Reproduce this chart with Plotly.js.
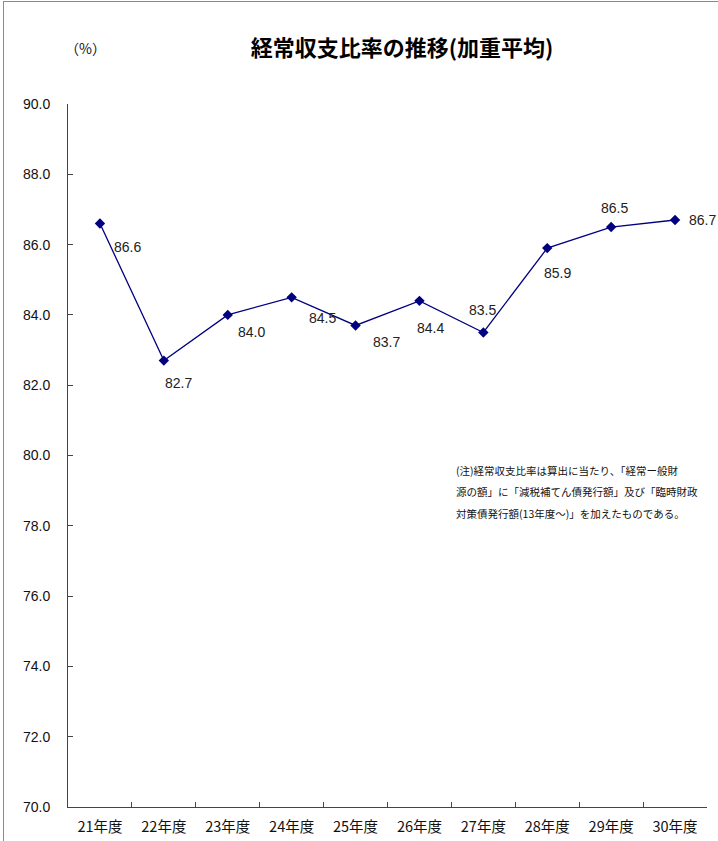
<!DOCTYPE html>
<html>
<head>
<meta charset="utf-8">
<script src="https://cdn.plot.ly/plotly-3.0.1.min.js"></script>
<style>
html,body{margin:0;padding:0;background:#fff;}
#wrap{position:relative;width:718px;height:841px;}
#chart{position:absolute;left:0;top:0;width:718px;height:841px;}
#frame{position:absolute;left:3px;top:1px;width:720px;height:850px;border-left:1px solid #8a8a8a;border-top:1px solid #8a8a8a;pointer-events:none;}
</style>
</head>
<body>
<div id="wrap"><div id="chart"></div><div id="frame"></div></div>
<script>
const categories = ["21年度","22年度","23年度","24年度","25年度","26年度","27年度","28年度","29年度","30年度"];
const ratios = [86.6, 82.7, 84.0, 84.5, 83.7, 84.4, 83.5, 85.9, 86.5, 86.7];
const yTicks = [70,72,74,76,78,80,82,84,86,88,90];
const titleText = "経常収支比率の推移(加重平均)";
const unitText = "（%）";
const noteLines = [
  "(注)経常収支比率は算出に当たり、「経常ー般財",
  "源の額」に「減税補てん債発行額」及び「臨時財政",
  "対策債発行額(13年度～)」を加えたものである。"
];

// label offsets (style only)
const labelDx = [28, 15, 24, 31, 31, 11, -1, 10, 3, 27];
const labelDy = [-23, -22, -17, -21, -17, -27, 22, -25, 19, 0];

const numFont = "'Liberation Sans Narrow','Arial Narrow','Liberation Sans',sans-serif";
const jpFont = "'Noto Sans CJK JP','Noto Sans CJK SC',sans-serif";

const trace = {
  x: categories,
  y: ratios,
  type: "scatter",
  mode: "lines+markers",
  line: {color: "#000080", width: 1.3},
  marker: {symbol: "diamond", size: 8, color: "#000080"},
  cliponaxis: false,
  hoverinfo: "none"
};

const labelAnns = ratios.map((v, i) => ({
  x: categories[i], y: v, xref: "x", yref: "y",
  text: v.toFixed(1), showarrow: false,
  xanchor: "center", yanchor: "middle",
  xshift: labelDx[i], yshift: labelDy[i],
  font: {family: numFont, size: 14, color: "#222"}
}));

const noteAnns = noteLines.map((t, i) => ({
  xref: "paper", yref: "paper", x: (454 - 68) / 639, y: (807 - 470) / 703,
  yshift: -i * 21.5,
  xanchor: "left", yanchor: "middle", align: "left", showarrow: false,
  text: t, font: {family: jpFont, size: 10.5, color: "#111"}
}));

const layout = {
  width: 718, height: 841,
  margin: {l: 68, r: 11, t: 104, b: 34},
  paper_bgcolor: "#fff", plot_bgcolor: "#fff",
  showlegend: false,
  title: {text: "<b>" + titleText + "</b>", font: {family: jpFont, size: 22, color: "#000"}, x: 402 / 718, xanchor: "center", y: 1 - 48 / 841, yanchor: "middle"},
  xaxis: {
    type: "category",
    range: [-0.5, 9.5],
    showline: true, linecolor: "#444", linewidth: 1,
    ticks: "inside", ticklen: 5, tickcolor: "#444", tickson: "boundaries",
    showgrid: false, zeroline: false,
    tickfont: {family: jpFont, size: 14.5, color: "#111"},
    ticklabelstandoff: 7,
    fixedrange: true
  },
  yaxis: {
    range: [70, 90],
    tickvals: yTicks,
    ticktext: yTicks.map(v => v.toFixed(1)),
    showline: true, linecolor: "#444", linewidth: 1,
    ticks: "inside", ticklen: 5, tickcolor: "#444",
    showgrid: false, zeroline: false,
    tickfont: {family: numFont, size: 14, color: "#111"},
    ticklabelstandoff: 14,
    fixedrange: true
  },
  annotations: [
    {xref: "paper", yref: "paper", x: (85 - 68) / 639, y: (807 - 48) / 703, xanchor: "center", yanchor: "middle", showarrow: false,
     text: unitText, font: {family: jpFont, size: 14, color: "#111"}}
  ].concat(noteAnns, labelAnns)
};

Plotly.newPlot("chart", [trace], layout, {displayModeBar: false, staticPlot: true});
</script>
</body>
</html>
